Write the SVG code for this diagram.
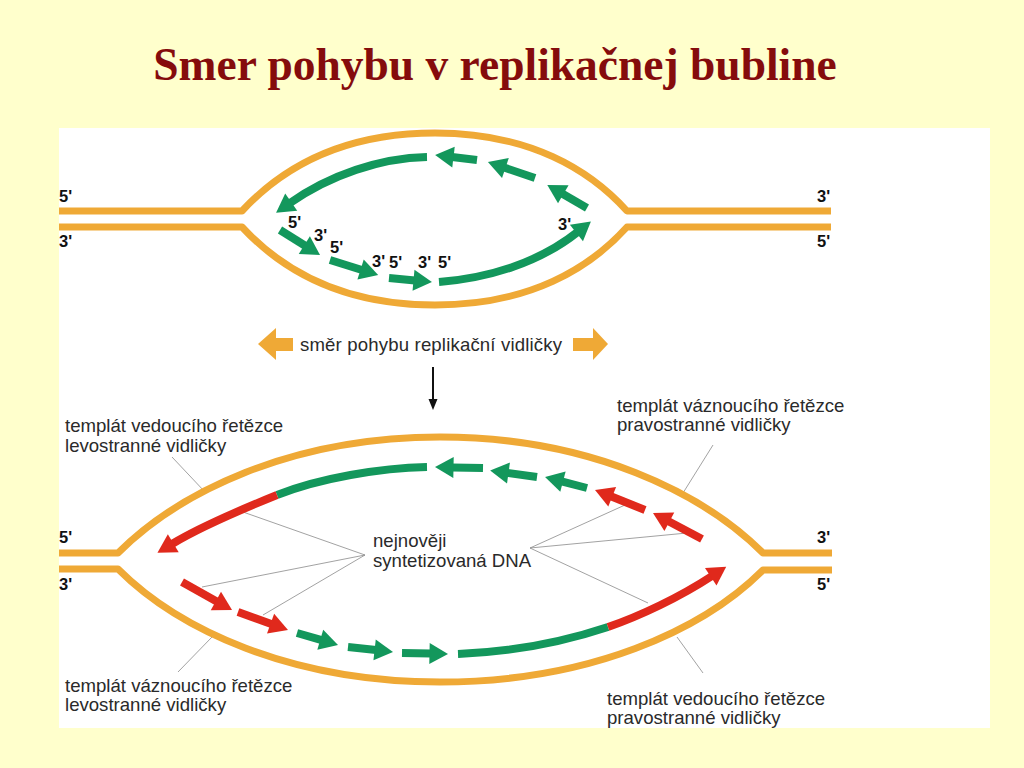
<svg xmlns="http://www.w3.org/2000/svg" width="1024" height="768" viewBox="0 0 1024 768">
<style>
.tmpl{fill:none;stroke:#efa936;stroke-width:7;stroke-linejoin:round}
.g{fill:none;stroke:#13975c;stroke-width:8}
.r{fill:none;stroke:#e0291c;stroke-width:8}
.ga{marker-end:url(#hg)}
.ra{marker-end:url(#hr)}
.lead{fill:none;stroke:#8a8a8a;stroke-width:0.8}
.end{font-family:"Liberation Sans",Arial,sans-serif;font-size:16.5px;font-weight:bold;fill:#111}
.lbl{font-family:"Liberation Sans",Arial,sans-serif;font-size:18.6px;fill:#2a2a2a}
</style>
<defs>
<marker id="hg" viewBox="-2 -12 22 24" markerWidth="22" markerHeight="24" refX="0" refY="0" orient="auto" markerUnits="userSpaceOnUse" overflow="visible">
<path d="M-1.5,-10.5 L17,0 L-1.5,10.5 z" fill="#13975c"/>
</marker>
<marker id="hr" viewBox="-2 -12 22 24" markerWidth="22" markerHeight="24" refX="0" refY="0" orient="auto" markerUnits="userSpaceOnUse" overflow="visible">
<path d="M-1.5,-10.5 L17,0 L-1.5,10.5 z" fill="#e0291c"/>
</marker>
<marker id="hk" viewBox="-1 -5 12 10" markerWidth="12" markerHeight="10" refX="0" refY="0" orient="auto" markerUnits="userSpaceOnUse" overflow="visible">
<path d="M-1,-4.5 L10,0 L-1,4.5 z" fill="#111"/>
</marker>
</defs>
<rect width="1024" height="768" fill="#ffffcc"/>
<text x="495" y="80" text-anchor="middle" font-family="Liberation Serif,'Times New Roman',serif" font-size="45.5" font-weight="bold" fill="#850c0c">Smer pohybu v replikačnej bubline</text>
<rect x="59" y="128" width="931" height="600" fill="#ffffff"/>

<g id="top-bubble">
<path class="tmpl" d="M59,211 H242 C280,170 340,133 435,133 C530,133 590,170 627,211 H831"/>
<path class="tmpl" d="M59,227 H242 C280,268 340,305 435,305 C530,305 590,268 627,227 H831"/>
<text class="end" x="59" y="202">5'</text>
<text class="end" x="59" y="247">3'</text>
<text class="end" x="817" y="202">3'</text>
<text class="end" x="817" y="247">5'</text>
</g>

<g id="top-upper-strand">
<path class="g ga" d="M427,157 C380,158 330,175 290,203"/>
<path class="g ga" d="M477,160 L452,157"/>
<path class="g ga" d="M535,178 L504,167.5"/>
<path class="g ga" d="M587,208 L562,193.5"/>
<text class="end" x="558" y="230">3'</text>
</g>

<g id="top-lower-strand">
<path class="g ga" d="M280,230 L305.6,246"/>
<path class="g ga" d="M330,260 L362,270"/>
<path class="g ga" d="M389,278 L415,280.4"/>
<path class="g ga" d="M439,282 C490,278 540,262 577.6,232"/>
<text class="end" x="288" y="228">5'</text>
<text class="end" x="314" y="241">3'</text>
<text class="end" x="330" y="253">5'</text>
<text class="end" x="372" y="267">3'</text>
<text class="end" x="389" y="268">5'</text>
<text class="end" x="418" y="268">3'</text>
<text class="end" x="438" y="268">5'</text>
</g>

<g id="direction">
<polygon points="258,344 276,328 276,338 293,338 293,351 276,351 276,360" fill="#efa936"/>
<polygon points="608,344 593,328 593,338 573,338 573,351 593,351 593,360" fill="#efa936"/>
<text class="lbl" x="300" y="351" textLength="262">směr pohybu replikační vidličky</text>
</g>

<g id="connectors">
<path d="M433,367 V400" stroke="#111" stroke-width="2" fill="none" marker-end="url(#hk)"/>
<path class="lead" d="M172,457 L205,492"/>
<path class="lead" d="M178,672 L212,637"/>
<path class="lead" d="M365,555 L243,512 M365,555 L202,587 M365,555 L263,615"/>
<path class="lead" d="M530,548 L625,505 M530,548 L687,533 M530,548 L648,603"/>
<path class="lead" d="M713,445 L683,493"/>
<path class="lead" d="M677,637 L703,673"/>
</g>

<g id="bottom-bubble">
<path class="tmpl" d="M59,553 H118 C178,493 290,437 440,437 C590,437 703,493 763,553 H832"/>
<path class="tmpl" d="M59,569 H118 C178,629 290,682 440,682 C590,682 703,630 763,570 H832"/>
<text class="end" x="59" y="543">5'</text>
<text class="end" x="59" y="590">3'</text>
<text class="end" x="817" y="543">3'</text>
<text class="end" x="817" y="590">5'</text>
</g>

<g id="bottom-upper-strand">
<path class="g" d="M427,467 C380,468 320,478 277,495"/>
<path class="r ra" d="M277,495 C240,510 200,527 172,544"/>
<path class="g ga" d="M483,468 L452,467.4"/>
<path class="g ga" d="M537,477 L507,472.8"/>
<path class="g ga" d="M587,488 L561.5,481.3"/>
<path class="r ra" d="M645,510 L610.8,496.3"/>
<path class="r ra" d="M702,539 L668,521"/>
</g>

<g id="bottom-lower-strand">
<path class="r ra" d="M182,582 L217.2,601.7"/>
<path class="r ra" d="M238,612 L272,624.2"/>
<path class="g ga" d="M297,633 L321.7,640.2"/>
<path class="g ga" d="M348,647 L376.1,650.1"/>
<path class="g ga" d="M402,653 L431,653.6"/>
<path class="g" d="M458,654 C510,652 560,643 608,627"/>
<path class="r ra" d="M608,627 C640,616 680,597 712,576"/>
</g>

<g id="labels">
<text class="lbl" x="65" y="432">templát vedoucího řetězce</text>
<text class="lbl" x="65" y="452">levostranné vidličky</text>
<text class="lbl" x="65" y="692">templát váznoucího řetězce</text>
<text class="lbl" x="65" y="711">levostranné vidličky</text>
<text class="lbl" x="617" y="412">templát váznoucího řetězce</text>
<text class="lbl" x="617" y="431">pravostranné vidličky</text>
<text class="lbl" x="607" y="705">templát vedoucího řetězce</text>
<text class="lbl" x="607" y="724">pravostranné vidličky</text>
<text class="lbl" x="373" y="547">nejnověji</text>
<text class="lbl" x="373" y="567">syntetizovaná DNA</text>
</g>
</svg>
